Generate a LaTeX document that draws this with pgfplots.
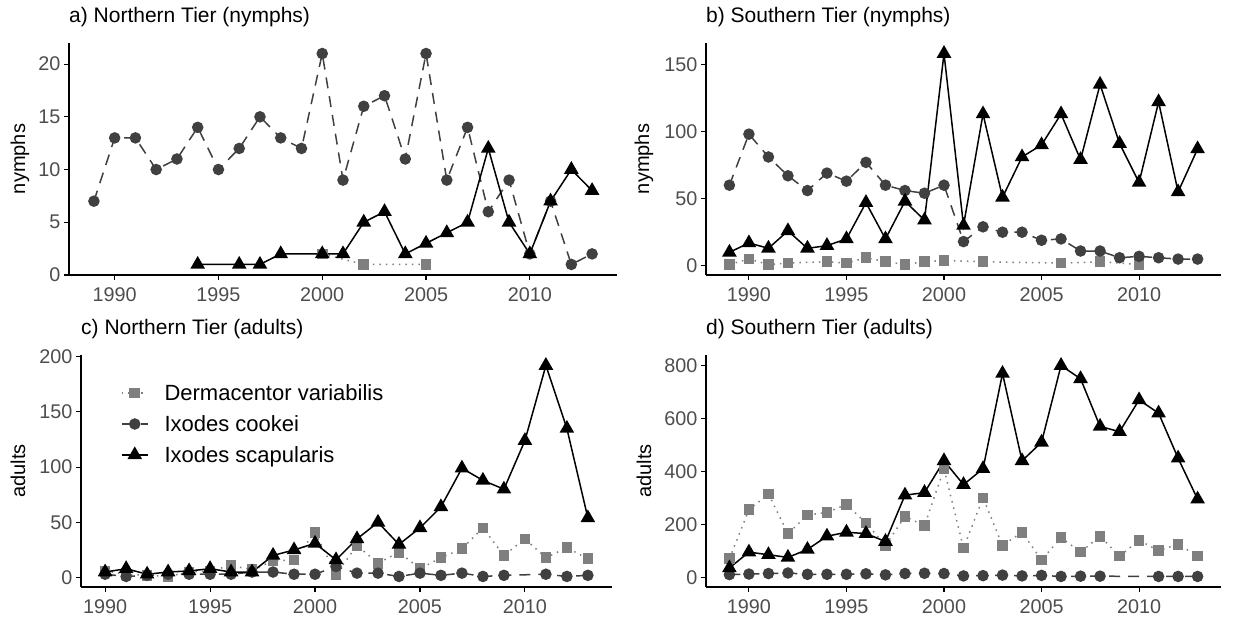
\documentclass[border=0pt]{standalone}
\usepackage{fontspec}
\setmainfont{Liberation Sans}
\usepackage{pgfplots}
\pgfplotsset{compat=1.18}

\definecolor{dvcol}{HTML}{7F7F7F}
\definecolor{iccol}{HTML}{404040}
\definecolor{tickcol}{HTML}{4D4D4D}

\pgfplotsset{
  panel/.style={
    scale only axis, anchor=south west,
    axis lines*=left,
    axis line style={line width=1.1pt, black},
    tick align=outside,
    major tick length=5pt,
    every tick/.style={line width=1.1pt, black},
    tick label style={font=\fontsize{19.8}{20}\selectfont, text=tickcol},
    xticklabel style={yshift=-4pt},
    /pgf/number format/assume math mode=true,
    /pgf/number format/1000 sep={},
    xtick={1990,1995,2000,2005,2010},
    clip=false,
    title style={at={(axis description cs:0,1)}, anchor=base west, yshift=14pt,
      inner sep=0pt, font=\fontsize{21}{22}\selectfont},
    every axis y label/.style={rotate=90, anchor=center,
      font=\fontsize{20}{20}\selectfont},
  },
  dv/.style={dvcol, line width=1.5pt, dash pattern=on 1.5pt off 5pt,
    mark=square*, mark size=4.6pt, mark options={solid, draw=none, fill=dvcol}},
  ic/.style={iccol, line width=1.5pt, dash pattern=on 11pt off 8pt,
    mark=*, mark size=5pt, mark options={solid, draw=none, fill=iccol}},
  is/.style={black, line width=1.5pt, solid,
    mark=triangle*, mark size=7pt, mark options={solid, draw=none, fill=black}},
}

\begin{document}
\begin{tikzpicture}
\path[use as bounding box] (0pt,0pt) rectangle (1239pt,617pt);

% a) Northern Tier, nymphs
\begin{axis}[panel, at={(69pt,342pt)}, width=548pt, height=232pt,
  xmin=1987.8, xmax=2014.2, ymin=0, ymax=22,
  ytick={0,5,10,15,20},
  title={a) Northern Tier (nymphs)},
  ylabel={nymphs}, ylabel style={at={(axis description cs:-0.0894,0.5)}}]
\addplot[dv] coordinates {(2000,2)(2002,1)(2005,1)};
\addplot[ic] coordinates {(1989,7)(1990,13)(1991,13)(1992,10)(1993,11)(1994,14)(1995,10)(1996,12)(1997,15)(1998,13)(1999,12)(2000,21)(2001,9)(2002,16)(2003,17)(2004,11)(2005,21)(2006,9)(2007,14)(2008,6)(2009,9)(2010,2)(2011,7)(2012,1)(2013,2)};
\addplot[is] coordinates {(1994,1)(1996,1)(1997,1)(1998,2)(2000,2)(2001,2)(2002,5)(2003,6)(2004,2)(2005,3)(2006,4)(2007,5)(2008,12)(2009,5)(2010,2)(2011,7)(2012,10)(2013,8)};
\end{axis}

% b) Southern Tier, nymphs
\begin{axis}[panel, at={(706pt,342pt)}, width=515pt, height=232pt,
  xmin=1987.8, xmax=2014.2, ymin=-6.85, ymax=165.85,
  ytick={0,50,100,150},
  title={b) Southern Tier (nymphs)},
  ylabel={nymphs}, ylabel style={at={(axis description cs:-0.1204,0.5)}}]
\addplot[dv] coordinates {(1989,1)(1990,5)(1991,1)(1992,2)(1994,3)(1995,2)(1996,6)(1997,3)(1998,1)(1999,3)(2000,4)(2002,3)(2006,2)(2008,3)(2010,1)};
\addplot[ic] coordinates {(1989,60)(1990,98)(1991,81)(1992,67)(1993,56)(1994,69)(1995,63)(1996,77)(1997,60)(1998,56)(1999,54)(2000,60)(2001,18)(2002,29)(2003,25)(2004,25)(2005,19)(2006,20)(2007,11)(2008,11)(2009,6)(2010,7)(2011,6)(2012,5)(2013,5)};
\addplot[is] coordinates {(1989,10)(1990,17)(1991,13)(1992,26)(1993,13)(1994,15)(1995,20)(1996,47)(1997,20)(1998,48)(1999,34)(2000,158)(2001,30)(2002,113)(2003,51)(2004,81)(2005,90)(2006,113)(2007,79)(2008,135)(2009,91)(2010,62)(2011,122)(2012,55)(2013,87)};
\end{axis}

% c) Northern Tier, adults
\begin{axis}[panel, at={(81pt,30pt)}, width=531pt, height=232pt,
  xmin=1988.85, xmax=2014.15, ymin=-8.55, ymax=201.55,
  ytick={0,50,100,150,200},
  title={c) Northern Tier (adults)},
  ylabel={adults}, ylabel style={at={(axis description cs:-0.1186,0.5)}},
  legend style={at={(rel axis cs:0.075,0.883)}, anchor=north west,
    draw=none, fill=none, inner sep=0pt, row sep=9.5pt, column sep=14pt,
    font=\fontsize{22}{22}\selectfont},
  legend cell align=left,
  legend image code/.code={\draw[mark repeat=2, mark phase=2, #1]
    plot coordinates {(0pt,0pt) (13pt,0pt) (26pt,0pt)};}]
\addplot[dv] coordinates {(1990,6)(1991,3)(1992,2)(1993,1)(1994,5)(1995,6)(1996,11)(1997,7)(1998,15)(1999,16)(2000,41)(2001,3)(2002,29)(2003,13)(2004,23)(2005,8)(2006,18)(2007,26)(2008,45)(2009,20)(2010,35)(2011,18)(2012,27)(2013,17)};
\addlegendentry{Dermacentor variabilis}
\addplot[ic] coordinates {(1990,3)(1991,1)(1992,2)(1993,3)(1994,3)(1995,3)(1996,3)(1997,5)(1998,5)(1999,3)(2000,3)(2001,10)(2002,4)(2003,4)(2004,1)(2005,4)(2006,2)(2007,4)(2008,1)(2009,2)(2011,3)(2012,1)(2013,2)};
\addlegendentry{Ixodes cookei}
\addplot[is] coordinates {(1990,5)(1991,8)(1992,3)(1993,5)(1994,6)(1995,8)(1996,5)(1997,5)(1998,20)(1999,25)(2000,31)(2001,16)(2002,35)(2003,50)(2004,30)(2005,45)(2006,64)(2007,99)(2008,88)(2009,80)(2010,124)(2011,192)(2012,135)(2013,54)};
\addlegendentry{Ixodes scapularis}
\end{axis}

% d) Southern Tier, adults
\begin{axis}[panel, at={(706pt,30pt)}, width=515pt, height=232pt,
  xmin=1987.8, xmax=2014.2, ymin=-36.85, ymax=839.85,
  ytick={0,200,400,600,800},
  title={d) Southern Tier (adults)},
  ylabel={adults}, ylabel style={at={(axis description cs:-0.1204,0.5)}}]
\addplot[dv] coordinates {(1989,70)(1990,255)(1991,315)(1992,165)(1993,235)(1994,245)(1995,275)(1996,205)(1997,120)(1998,230)(1999,195)(2000,410)(2001,110)(2002,300)(2003,120)(2004,170)(2005,65)(2006,150)(2007,95)(2008,155)(2009,80)(2010,140)(2011,100)(2012,125)(2013,80)};
\addplot[ic] coordinates {(1989,10)(1990,12)(1991,14)(1992,16)(1993,11)(1994,11)(1995,11)(1996,13)(1997,9)(1998,14)(1999,15)(2000,14)(2001,5)(2002,6)(2003,8)(2004,5)(2005,7)(2006,3)(2007,4)(2008,4)(2011,3)(2012,3)(2013,3)};
\addplot[is] coordinates {(1989,35)(1990,95)(1991,85)(1992,75)(1993,105)(1994,155)(1995,170)(1996,165)(1997,135)(1998,310)(1999,320)(2000,440)(2001,350)(2002,410)(2003,770)(2004,440)(2005,510)(2006,800)(2007,750)(2008,570)(2009,550)(2010,670)(2011,620)(2012,450)(2013,295)};
\end{axis}
\end{tikzpicture}
\end{document}
